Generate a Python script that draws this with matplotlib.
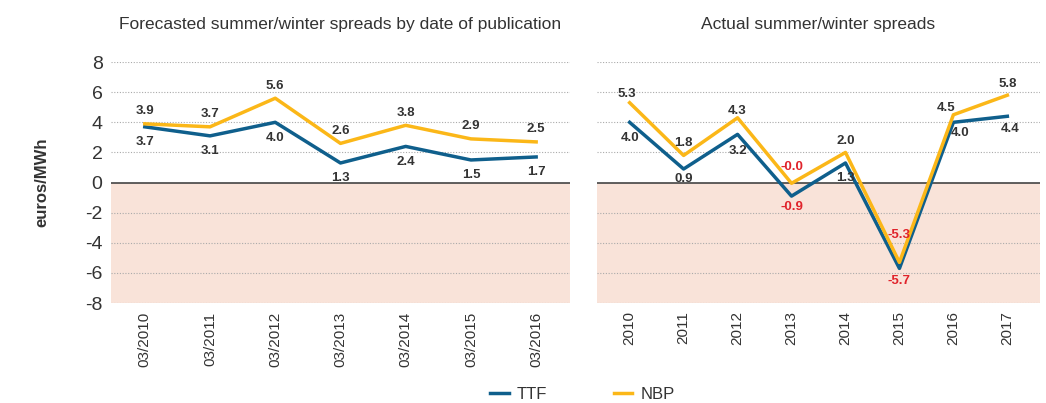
import matplotlib
matplotlib.use('Agg')
import matplotlib.pyplot as plt

plt.rcParams['font.family'] = ['Liberation Sans', 'DejaVu Sans']
plt.rcParams['axes.unicode_minus'] = False

# left panel: forecasts by publication date
pub_dates = ['03/2010', '03/2011', '03/2012', '03/2013', '03/2014', '03/2015', '03/2016']
fc_ttf = [3.7, 3.1, 4.0, 1.3, 2.4, 1.5, 1.7]
fc_nbp = [3.9, 3.7, 5.6, 2.6, 3.8, 2.9, 2.7]
fc_ttf_lbl = ['3.7', '3.1', '4.0', '1.3', '2.4', '1.5', '1.7']
fc_nbp_lbl = ['3.9', '3.7', '5.6', '2.6', '3.8', '2.9', '2.5']

# right panel: actual spreads
years = ['2010', '2011', '2012', '2013', '2014', '2015', '2016', '2017']
act_ttf = [4.0, 0.9, 3.2, -0.9, 1.3, -5.7, 4.0, 4.4]
act_nbp = [5.3, 1.8, 4.3, -0.05, 2.0, -5.3, 4.5, 5.8]
act_ttf_lbl = ['4.0', '0.9', '3.2', '-0.9', '1.3', '-5.7', '4.0', '4.4']
act_nbp_lbl = ['5.3', '1.8', '4.3', '-0.0', '2.0', '-5.3', '4.5', '5.8']

TTF_C = '#0f5f8c'
NBP_C = '#fbb718'
PINK = '#f9e3d9'
TXT = '#333333'
RED = '#e0232b'

fig = plt.figure(figsize=(10.46, 4.03), dpi=100)
ax1 = fig.add_axes([0.106, 0.248, 0.439, 0.598])
ax2 = fig.add_axes([0.571, 0.248, 0.423, 0.598])


def setup(ax, labels, pad):
    n = len(labels)
    ax.set_xlim(-pad, n - 1 + pad)
    ax.set_ylim(-8, 8)
    ax.axhspan(-8, 0, color=PINK, zorder=0, lw=0)
    for y in range(-8, 9, 2):
        if y != 0:
            ax.axhline(y, color='#aaaaaa', lw=0.8, ls=(0, (1, 1.5)), zorder=1)
    ax.axhline(0, color='#444444', lw=1.2, zorder=2)
    for s in ax.spines.values():
        s.set_visible(False)
    ax.set_xticks(range(n))
    ax.set_xticklabels(labels, rotation=90)
    ax.set_yticks(range(-8, 9, 2))
    ax.tick_params(axis='y', length=0, labelsize=14, labelcolor=TXT, pad=6)
    ax.tick_params(axis='x', length=0, labelsize=11, labelcolor=TXT, pad=6)


def label(ax, x, y, txt, dx, dy):
    col = RED if txt.startswith('-') else TXT
    ax.annotate(txt, (x, y), xytext=(dx, dy), textcoords='offset points',
                ha='center', va='center', fontsize=9.5, fontweight='bold', color=col)


setup(ax1, pub_dates, 0.52)
x1 = range(len(pub_dates))
ax1.plot(x1, fc_ttf, color=TTF_C, lw=2.5, zorder=3)
ax1.plot(x1, fc_nbp, color=NBP_C, lw=2.5, zorder=3)
for i in x1:
    label(ax1, i, fc_nbp[i], fc_nbp_lbl[i], 0, 9)
    label(ax1, i, fc_ttf[i], fc_ttf_lbl[i], 0, -11)
ax1.set_title('Forecasted summer/winter spreads by date of publication',
              fontsize=12.5, color=TXT, pad=24)
ax1.set_ylabel('euros/MWh', fontsize=12, fontweight='bold', color=TXT, labelpad=26)

setup(ax2, years, 0.6)
ax2.set_yticklabels([])
x2 = range(len(years))
ax2.plot(x2, act_ttf, color=TTF_C, lw=2.5, zorder=3)
ax2.plot(x2, act_nbp, color=NBP_C, lw=2.5, zorder=3)
# label offsets (points) for the right panel
nbp_off = [(-2, 6), (0, 9), (0, 5), (0, 12), (0, 8), (0, 20), (-5, 5), (0, 8)]
ttf_off = [(0, -11), (0, -7), (0, -12), (0, -8), (0, -11), (0, -9), (5, -8), (2, -9)]
for i in x2:
    label(ax2, i, act_nbp[i], act_nbp_lbl[i], *nbp_off[i])
    label(ax2, i, act_ttf[i], act_ttf_lbl[i], *ttf_off[i])
ax2.set_title('Actual summer/winter spreads', fontsize=12.5, color=TXT, pad=24)

h1, = ax1.plot([], [], color=TTF_C, lw=2.5, label='TTF')
h2, = ax1.plot([], [], color=NBP_C, lw=2.5, label='NBP')
fig.legend(handles=[h1, h2], loc='lower center', bbox_to_anchor=(0.557, -0.035),
           ncol=2, frameon=False, fontsize=12, handlelength=1.1, columnspacing=4,
           handletextpad=0.5, labelcolor=TXT)

fig.savefig('out.png', dpi=100)
